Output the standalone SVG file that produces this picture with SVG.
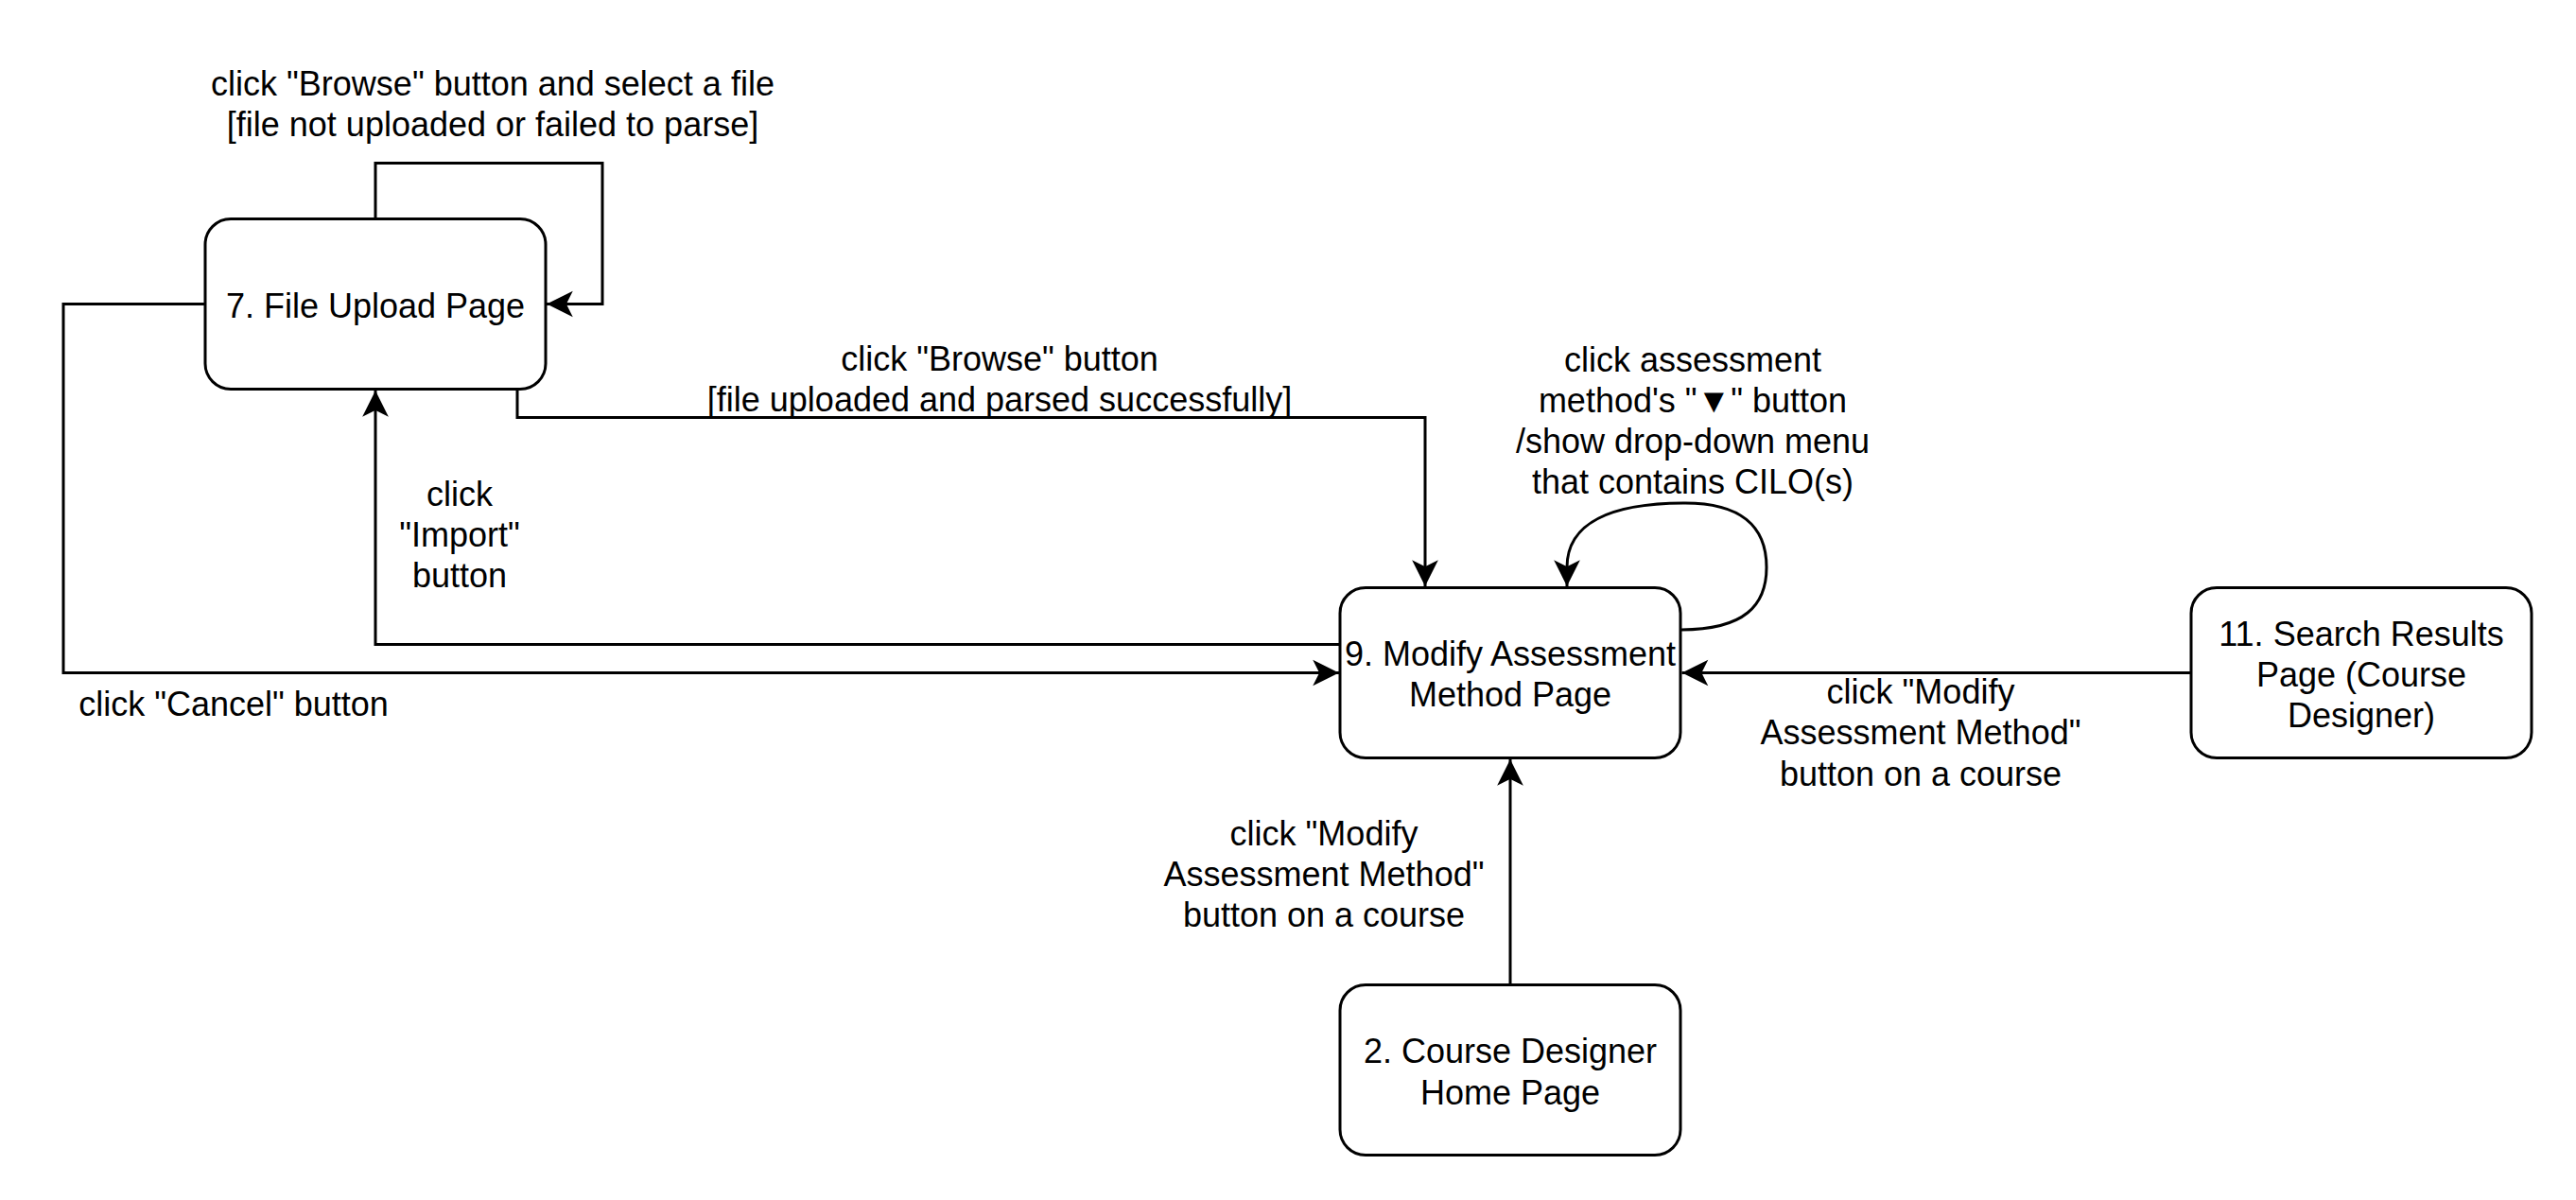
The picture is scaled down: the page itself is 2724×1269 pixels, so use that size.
<svg xmlns="http://www.w3.org/2000/svg" width="2724" height="1269" viewBox="0 0 2724 1269">
  <style>
    .node rect { fill: #ffffff; stroke: #000000; stroke-width: 3; }
    .edge { fill: none; stroke: #000000; stroke-width: 3; stroke-linejoin: miter; }
    text { font-family: "Liberation Sans", Arial, Helvetica, sans-serif; font-size: 36px; fill: #000000; text-anchor: middle; }
  </style>
  <defs>
    <marker id="arrow" markerUnits="userSpaceOnUse" orient="auto" refX="0" refY="0" markerWidth="40" markerHeight="40" overflow="visible">
      <path d="M-3.4,0 L-24.4,-10.5 L-19.15,0 L-24.4,10.5 Z" fill="#000000" stroke="#000000" stroke-width="3" stroke-linejoin="miter"/>
    </marker>
  </defs>
  <rect width="2724" height="1269" fill="#ffffff"/>

  <!-- transitions -->
  <g id="connectors">
    <!-- 7 -> 7: file not uploaded / failed to parse -->
    <path class="edge" d="M397,231.5 V172.5 H637 V321.5 H578" marker-end="url(#arrow)"/>
    <!-- 7 -> 9: cancel -->
    <path class="edge" d="M217,321.5 H67 V711.5 H1416" marker-end="url(#arrow)"/>
    <!-- 9 -> 7: import -->
    <path class="edge" d="M1417,681.5 H397 V413" marker-end="url(#arrow)"/>
    <!-- 7 -> 9: parsed successfully -->
    <path class="edge" d="M547,411.5 V441.5 H1507 V620" marker-end="url(#arrow)"/>
    <!-- 9 -> 9: drop-down menu -->
    <path class="edge" d="M1777,666 C1845,666 1868,640 1868,600 C1868,556 1840,532 1782,532 C1705,532 1657,552 1657,600 L1657,620" marker-end="url(#arrow)"/>
    <!-- 11 -> 9 -->
    <path class="edge" d="M2317,711.5 H1778.5" marker-end="url(#arrow)"/>
    <!-- 2 -> 9 -->
    <path class="edge" d="M1597,1041.5 V803" marker-end="url(#arrow)"/>

    <!-- transition labels -->
    <text x="521" y="101">click "Browse" button and select a file</text>
    <text x="521" y="144">[file not uploaded or failed to parse]</text>

    <text x="1057" y="392">click "Browse" button</text>
    <text x="1057" y="435">[file uploaded and parsed successfully]</text>

    <text x="486" y="535">click</text>
    <text x="486" y="578">"Import"</text>
    <text x="486" y="621">button</text>

    <text x="247" y="757">click "Cancel" button</text>

    <text x="1790" y="393">click assessment</text>
    <text x="1790" y="436">method's "▼" button</text>
    <text x="1790" y="479">/show drop-down menu</text>
    <text x="1790" y="522">that contains CILO(s)</text>

    <text x="2031" y="744">click "Modify</text>
    <text x="2031" y="787">Assessment Method"</text>
    <text x="2031" y="831">button on a course</text>

    <text x="1400" y="894">click "Modify</text>
    <text x="1400" y="937">Assessment Method"</text>
    <text x="1400" y="980">button on a course</text>
  </g>

  <g id="node-7" class="node">
    <rect x="217" y="231.5" width="360" height="180" rx="27" ry="27"/>
    <text x="397" y="336">7. File Upload Page</text>
  </g>

  <g id="node-9" class="node">
    <rect x="1417" y="621.5" width="360" height="180" rx="27" ry="27"/>
    <text x="1597" y="704">9. Modify Assessment</text>
    <text x="1597" y="747">Method Page</text>
  </g>

  <g id="node-11" class="node">
    <rect x="2317" y="621.5" width="360" height="180" rx="27" ry="27"/>
    <text x="2497" y="683">11. Search Results</text>
    <text x="2497" y="726">Page (Course</text>
    <text x="2497" y="769">Designer)</text>
  </g>

  <g id="node-2" class="node">
    <rect x="1417" y="1041.5" width="360" height="180" rx="27" ry="27"/>
    <text x="1597" y="1124">2. Course Designer</text>
    <text x="1597" y="1168">Home Page</text>
  </g>
</svg>
